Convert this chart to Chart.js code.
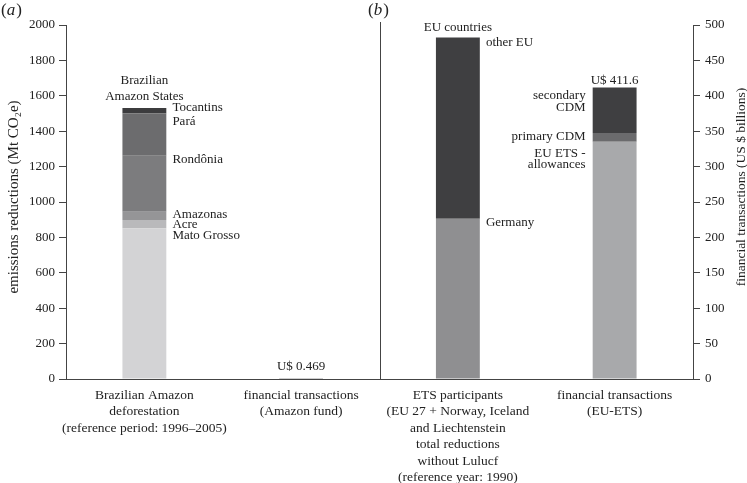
<!DOCTYPE html>
<html>
<head>
<meta charset="utf-8">
<script src="https://cdn.jsdelivr.net/npm/chart.js@4"></script>
<style>
html,body{margin:0;padding:0;background:#fff;}
canvas{display:block;}
</style>
</head>
<body>
<canvas id="c" width="747" height="483"></canvas>
<script>
// ---- data ----
const categories = [
  ["Brazilian Amazon", "deforestation", "(reference period: 1996–2005)"],
  ["financial transactions", "(Amazon fund)"],
  ["ETS participants", "(EU 27 + Norway, Iceland", "and Liechtenstein", "total reductions", "without Lulucf", "(reference year: 1990)"],
  ["financial transactions", "(EU-ETS)"]
];
// Brazilian Amazon States (Mt CO2e)
const brazilStates = ["Mato Grosso", "Acre", "Amazonas", "Rondônia", "Pará", "Tocantins"];
const brazilValues = [851, 47, 47, 317, 239, 30];
// EU countries (Mt CO2e)
const euGroups = ["Germany", "other EU"];
const euValues = [905, 1025];
// financial transactions EU-ETS (US$ billions)
const etsParts = ["EU ETS - allowances", "primary CDM", "secondary CDM"];
const etsValues = [335, 12.5, 64.1];
// financial transactions Amazon fund (US$ billions)
const amazonFund = 0.469;
const leftTicks = [0, 2000, 200];
const rightTicks = [0, 500, 50];

// ---- styles ----
const FONT = "Liberation Serif";
const brazilColors = ["#d3d3d5", "#b9b9bb", "#959597", "#7c7c7e", "#6c6c6e", "#3c3c3e"];
const euColors = ["#8f8f91", "#3f3f41"];
const etsColors = ["#a8a9ab", "#6b6b6d", "#3f3f41"];

function slot(idx, v) { const a = [null, null, null, null]; a[idx] = v; return a; }

const datasets = [];
brazilStates.forEach((n, i) => datasets.push({label: n, data: slot(0, brazilValues[i]), backgroundColor: brazilColors[i], yAxisID: 'y', stack: 's'}));
datasets.push({label: "Amazon fund", data: slot(1, amazonFund), backgroundColor: "#3f3f41", yAxisID: 'y1', stack: 's'});
euGroups.forEach((n, i) => datasets.push({label: n, data: slot(2, euValues[i]), backgroundColor: euColors[i], yAxisID: 'y', stack: 's'}));
etsParts.forEach((n, i) => datasets.push({label: n, data: slot(3, etsValues[i]), backgroundColor: etsColors[i], yAxisID: 'y1', stack: 's'}));

// annotation texts: category, axis, value-level, alignment relative to bar
const annots = [
  {t: "Brazilian", cat: 0, axis: 'y', v: 1685, align: 'center'},
  {t: "Amazon States", cat: 0, axis: 'y', v: 1598, align: 'center'},
  {t: "Tocantins", cat: 0, axis: 'y', v: 1533, align: 'right-of'},
  {t: "Pará", cat: 0, axis: 'y', v: 1454, align: 'right-of'},
  {t: "Rondônia", cat: 0, axis: 'y', v: 1237, align: 'right-of'},
  {t: "Amazonas", cat: 0, axis: 'y', v: 927, align: 'right-of'},
  {t: "Acre", cat: 0, axis: 'y', v: 870, align: 'right-of'},
  {t: "Mato Grosso", cat: 0, axis: 'y', v: 810, align: 'right-of'},
  {t: "U$ 0.469", cat: 1, axis: 'y1', v: 17, align: 'center'},
  {t: "EU countries", cat: 2, axis: 'y', v: 1983, align: 'center'},
  {t: "other EU", cat: 2, axis: 'y', v: 1900, align: 'right-of'},
  {t: "Germany", cat: 2, axis: 'y', v: 881, align: 'right-of'},
  {t: "U$ 411.6", cat: 3, axis: 'y1', v: 422, align: 'center'},
  {t: "secondary", cat: 3, axis: 'y1', v: 400, align: 'left-of'},
  {t: "CDM", cat: 3, axis: 'y1', v: 383, align: 'left-of'},
  {t: "primary CDM", cat: 3, axis: 'y1', v: 342, align: 'left-of'},
  {t: "EU ETS -", cat: 3, axis: 'y1', v: 318, align: 'left-of'},
  {t: "allowances", cat: 3, axis: 'y1', v: 303, align: 'left-of'}
];

const overlay = {
  id: 'overlay',
  afterDraw(chart) {
    const ctx = chart.ctx;
    const xs = chart.scales.x, area = chart.chartArea;
    ctx.save();
    // divider between panels
    const xd = Math.round((xs.getPixelForValue(1) + xs.getPixelForValue(2)) / 2) + 0.5;
    ctx.strokeStyle = '#444'; ctx.lineWidth = 1;
    ctx.beginPath(); ctx.moveTo(xd, area.top - 3); ctx.lineTo(xd, area.bottom); ctx.stroke();
    // annotations
    ctx.fillStyle = '#222';
    ctx.font = '13px "' + FONT + '"';
    ctx.textBaseline = 'middle';
    const half = 22;
    annots.forEach(a => {
      const cx = xs.getPixelForValue(a.cat);
      const y = chart.scales[a.axis].getPixelForValue(a.v);
      if (a.align === 'center') { ctx.textAlign = 'center'; ctx.fillText(a.t, cx, y); }
      else if (a.align === 'right-of') { ctx.textAlign = 'left'; ctx.fillText(a.t, cx + half + 6, y); }
      else { ctx.textAlign = 'right'; ctx.fillText(a.t, cx - half - 7, y); }
    });
    // axis titles (both read bottom-to-top)
    ctx.textAlign = 'center';
    ctx.save();
    ctx.font = '15px "' + FONT + '"';
    ctx.translate(14, 197); ctx.rotate(-Math.PI / 2);
    ctx.fillText("emissions reductions (Mt CO₂e)", 0, 0);
    ctx.restore();
    ctx.save();
    ctx.font = '13.5px "' + FONT + '"';
    ctx.translate(741, 187); ctx.rotate(-Math.PI / 2);
    ctx.fillText("financial transactions (US $ billions)", 0, 0);
    ctx.restore();
    // panel letters
    function panel(letter, x, y) {
      ctx.font = '17px "' + FONT + '"';
      ctx.textAlign = 'left';
      let w1 = ctx.measureText('(').width;
      ctx.fillText('(', x, y);
      ctx.font = 'italic 17px "' + FONT + '"';
      let w2 = ctx.measureText(letter).width;
      ctx.fillText(letter, x + w1, y);
      ctx.font = '17px "' + FONT + '"';
      ctx.fillText(')', x + w1 + w2 + 1, y);
    }
    panel('a', 1, 11);
    panel('b', 368, 11);
    ctx.restore();
  }
};

new Chart(document.getElementById('c'), {
  type: 'bar',
  data: {labels: categories, datasets},
  options: {
    responsive: false,
    animation: false,
    layout: {padding: {top: 25, left: 0, right: 0, bottom: 0}},
    plugins: {legend: {display: false}, tooltip: {enabled: false}},
    datasets: {bar: {categoryPercentage: 1, barPercentage: 0.28}},
    scales: {
      x: {
        stacked: true,
        grid: {display: false, drawTicks: false},
        border: {display: true, color: '#444'},
        ticks: {padding: 8, color: '#222', font: {family: FONT, size: 13.5, lineHeight: 1.22}, maxRotation: 0, autoSkip: false},
        afterFit(s) { s.height = 104; }
      },
      y: {
        position: 'left', stacked: true, min: leftTicks[0], max: leftTicks[1],
        grid: {drawOnChartArea: false, drawTicks: true, tickLength: 7, color: '#444'},
        border: {display: true, color: '#444'},
        ticks: {stepSize: leftTicks[2], padding: 4, color: '#222', font: {family: FONT, size: 13}, callback: v => String(v)},
        afterFit(s) { s.width = 66; }
      },
      y1: {
        position: 'right', stacked: true, min: rightTicks[0], max: rightTicks[1],
        grid: {drawOnChartArea: false, drawTicks: true, tickLength: 7, color: '#444'},
        border: {display: true, color: '#444'},
        ticks: {stepSize: rightTicks[2], padding: 5, color: '#222', font: {family: FONT, size: 13}, callback: v => String(v)},
        afterFit(s) { s.width = 54; }
      }
    }
  },
  plugins: [overlay]
});
</script>
</body>
</html>
